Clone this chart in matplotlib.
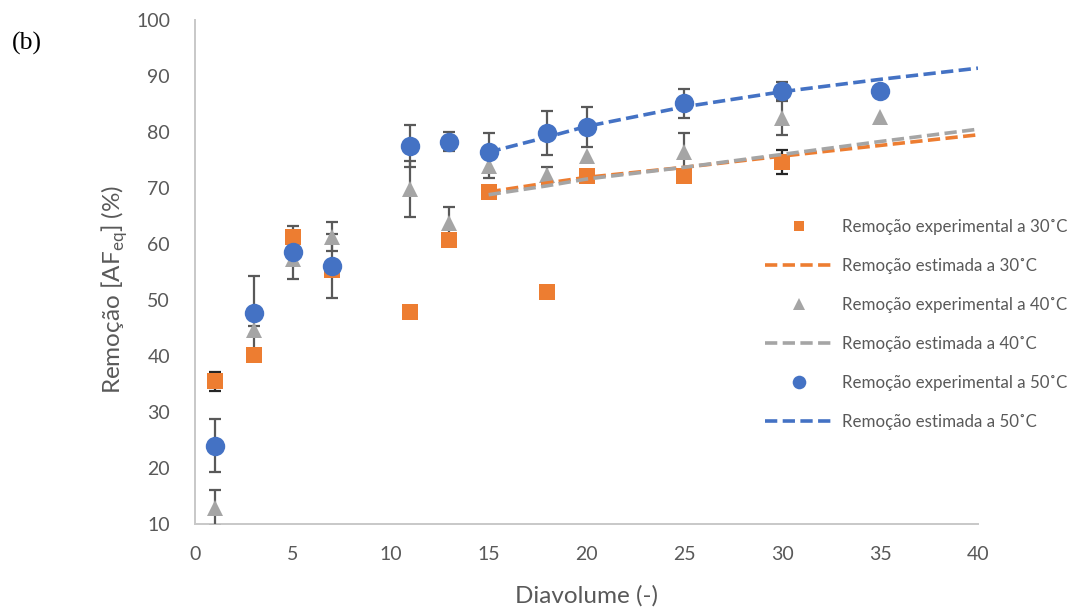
#! /usr/bin/env python

import numpy as np
import matplotlib
matplotlib.use("Agg")
from matplotlib import pyplot as plt

# Diavolumes of the experimental points
diavol = [1, 3, 5, 7, 11, 13, 15, 18, 20, 25, 30, 35]

# Experimental removal (%) and error bars, one list per temperature
# (None = no measurement at that diavolume)
rem_30 = [35.5, 40.1, 61.3, 55.4, 47.9, 60.7, 69.3, 51.4, 72.2, 72.2, 74.6, None]
err_30 = [1.7, 0, 0, 0, 0, 0, 0, 0, 0, 0, 2.1, 0]
rem_40 = [12.8, 44.6, 57.3, 61.3, 69.9, 63.7, 73.9, 72.3, 75.7, 76.5, 82.5, 82.7]
err_40 = [3.2, 0.8, 0, 2.6, 5.0, 2.9, 2.2, 1.5, 0, 3.4, 3.0, 0]
rem_50 = [24.0, 47.6, 58.5, 56.1, 77.5, 78.3, 76.4, 79.8, 80.9, 85.1, 87.4, 87.4]
err_50 = [4.7, 6.7, 4.7, 5.7, 3.75, 1.7, 3.4, 3.9, 3.55, 2.6, 1.6, 0]

# Model estimate of the removal
diavol_est = [15, 18, 20, 25, 30, 35, 40]
est_30 = [69.3, 70.9, 71.9, 73.7, 75.7, 77.6, 79.5]
est_40 = [68.8, 70.4, 71.6, 73.7, 76.0, 78.3, 80.5]
est_50 = [76.4, 79.1, 81.0, 84.5, 87.2, 89.4, 91.4]

x_ticks = [0, 5, 10, 15, 20, 25, 30, 35, 40]
y_ticks = [10, 20, 30, 40, 50, 60, 70, 80, 90, 100]

FONT = ["Lato", "DejaVu Sans"]
GREY_TXT = "#595959"


def draw_series(ax, x, y, err, color, marker, msize, ecolor, label):
    """Error bars first, markers on top of them"""
    x = np.array(x, dtype=float)
    y = np.array([np.nan if v is None else v for v in y], dtype=float)
    err = np.array(err, dtype=float)
    sel = (err > 0) & ~np.isnan(y)
    ax.errorbar(x[sel], y[sel], yerr=err[sel], fmt="none", ecolor=ecolor,
                elinewidth=1.6, capsize=4.5, capthick=1.6, zorder=3)
    ax.plot(x, y, ls="None", marker=marker, markersize=msize, color=color,
            markeredgewidth=0, label=label, zorder=4)


def draw_estimate(ax, x, y, color, label):
    line, = ax.plot(x, y, color=color, lw=2.6, label=label, zorder=5)
    line.set_dashes((3.4, 1.5))
    return line


def main():
    plt.rcParams["font.family"] = FONT

    fig = plt.figure(figsize=(10.72, 6.08), dpi=100)
    ax = fig.add_axes([195 / 1072, 1 - 524 / 608, (978 - 195) / 1072,
                       (524 - 20) / 608])

    orange, grey, blue = "#ED7D31", "#A5A5A5", "#4472C4"

    draw_series(ax, diavol, rem_30, err_30, orange, "s", 11, "#262626",
                "Remoção experimental a 30˚C")
    draw_estimate(ax, diavol_est, est_30, orange, "Remoção estimada a 30˚C")
    draw_series(ax, diavol, rem_40, err_40, grey, "^", 12, "#595959",
                "Remoção experimental a 40˚C")
    draw_estimate(ax, diavol_est, est_40, grey, "Remoção estimada a 40˚C")
    draw_series(ax, diavol, rem_50, err_50, blue, "o", 14, "#595959",
                "Remoção experimental a 50˚C")
    draw_estimate(ax, diavol_est, est_50, blue, "Remoção estimada a 50˚C")

    # Axes in the spreadsheet look: no grid, no ticks, light grey spines
    ax.set_xlim(0, 40)
    ax.set_ylim(10, 100)
    ax.set_xticks(x_ticks)
    ax.set_yticks(y_ticks)
    for side in ("top", "right"):
        ax.spines[side].set_visible(False)
    for side in ("left", "bottom"):
        ax.spines[side].set_color("#C8C8C8")
        ax.spines[side].set_linewidth(1.4)
    ax.tick_params(length=0, labelsize=14, labelcolor=GREY_TXT)
    ax.tick_params(axis="x", pad=16)
    ax.tick_params(axis="y", pad=18)

    ax.set_xlabel("Diavolume (-)", fontsize=17.5, color=GREY_TXT, labelpad=16)
    ax.set_ylabel(r"Remoção [AF$_\mathregular{eq}$] (%)", fontsize=17.5,
                  color=GREY_TXT)
    ax.yaxis.set_label_coords(-0.083, 0.466)

    leg = ax.legend(loc="upper left", bbox_to_anchor=(765 / 1072, 1 - 219 / 608),
                    bbox_transform=fig.transFigure, frameon=False, fontsize=12.2,
                    borderpad=0, borderaxespad=0, handlelength=4.0,
                    handletextpad=0.55, labelspacing=1.36, markerscale=0.7)
    for txt in leg.get_texts():
        txt.set_color(GREY_TXT)

    fig.text(12 / 1072, 1 - 43 / 608, "(b)", fontsize=18.5,
             family="Liberation Serif", va="center", ha="left")

    fig.savefig("out.png", dpi=100)


if __name__ == "__main__":
    main()
